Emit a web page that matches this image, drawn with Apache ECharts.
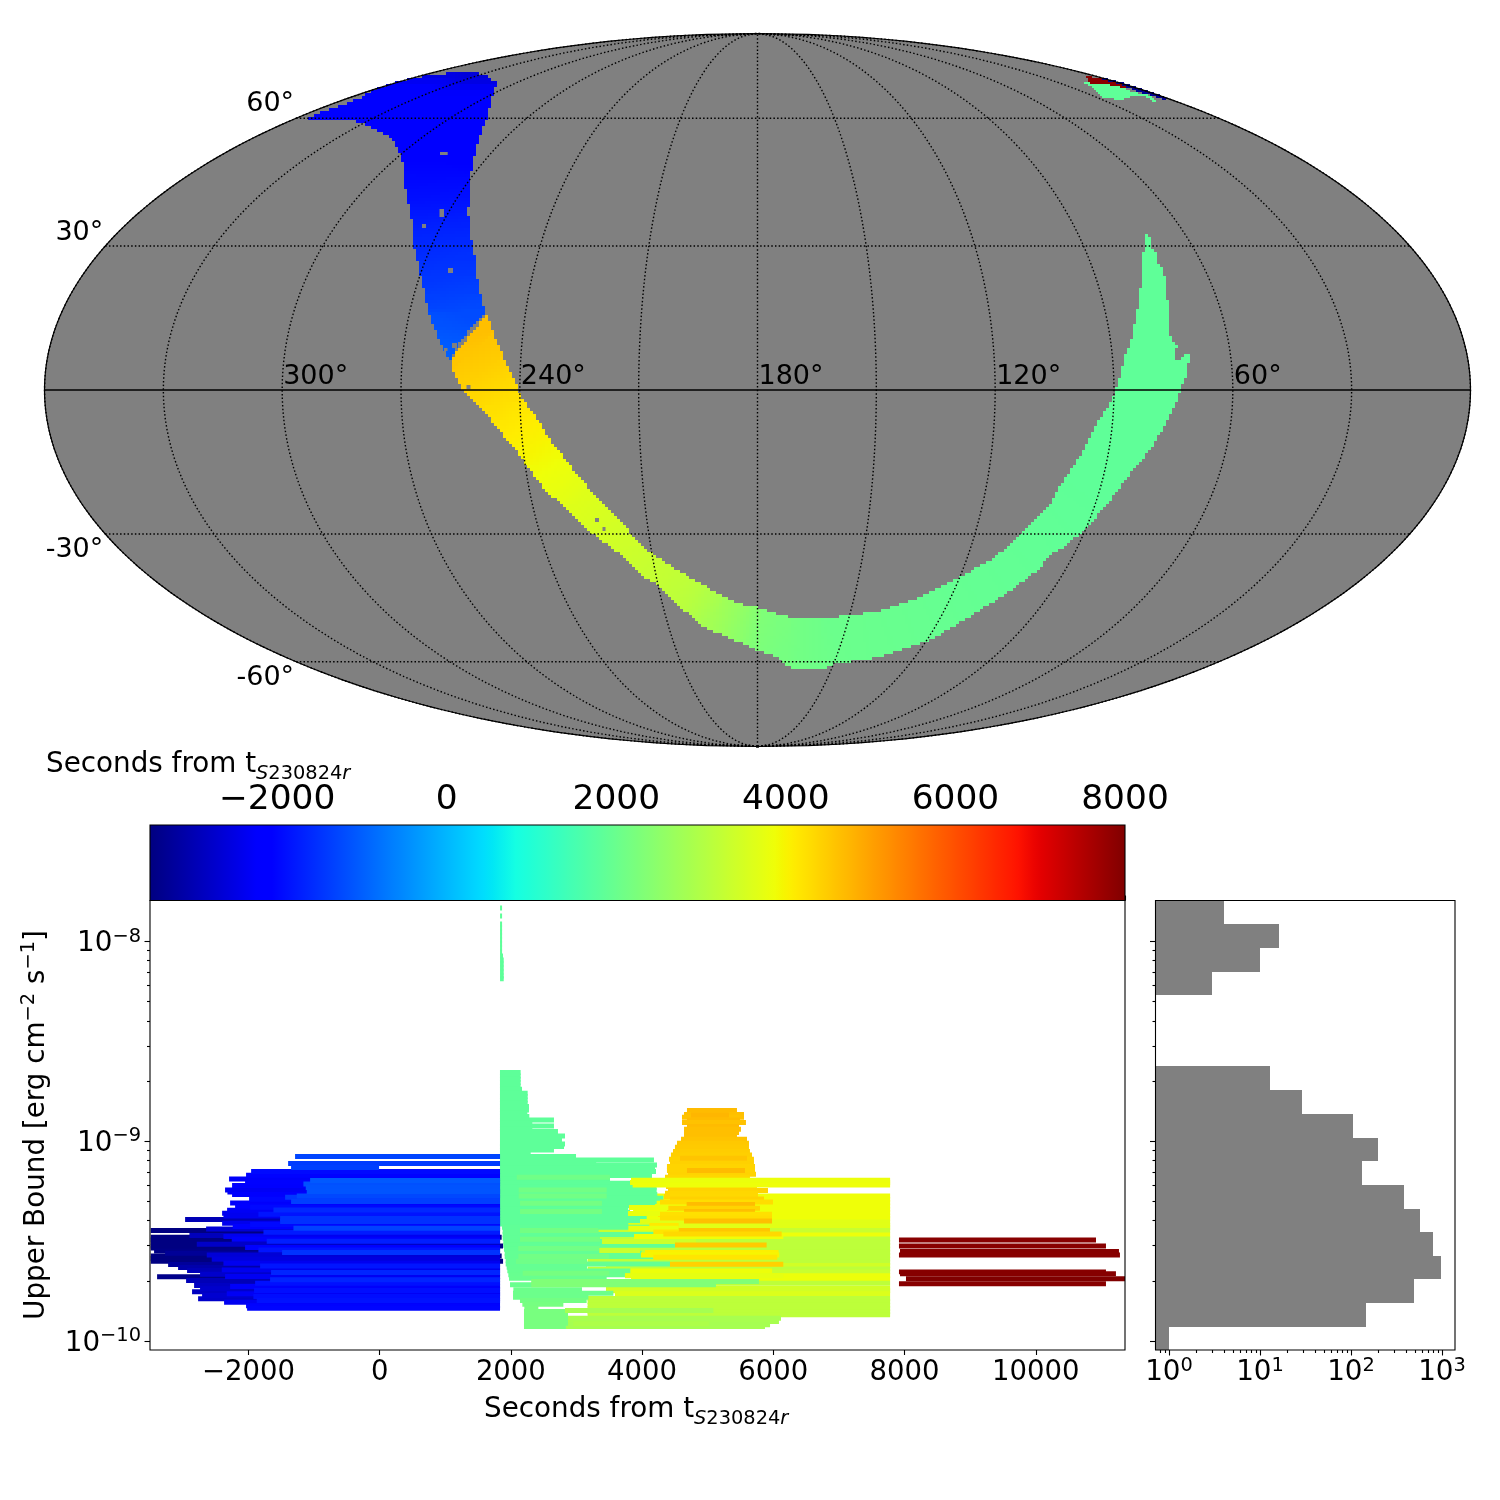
<!DOCTYPE html>
<html><head><meta charset="utf-8">
<style>html,body{margin:0;padding:0;background:#fff}#c{width:1500px;height:1500px}</style>
<script src="https://cdn.jsdelivr.net/npm/echarts@6/dist/echarts.min.js"></script>
</head><body><div id="c"></div>
<script>
// ---------- sky map data: sections in Mollweide plane units [x1,y1,x2,y2,seconds] ----------
const blueBand=[[-304,317.3,-281,317.3,-2600],[-337.5,313.3,-270.8,313.3,-2500],[-367.5,306.7,-260.8,306.7,-2350],[-384.2,300,-264.2,300,-2250],[-395.8,293.3,-265.8,293.3,-2200],[-409.2,286.7,-267.5,286.7,-2180],[-430.8,280,-269.2,280,-2170],[-452.5,271.7,-270.8,271.7,-2160],[-402.5,269,-271.8,269,-2150],[-387.5,263.3,-274.2,263.3,-2140],[-370.8,255,-277.5,255,-2130],[-362.5,246.7,-280.8,246.7,-2110],[-355.8,230,-284.2,230,-2070],[-354.2,213.3,-287.5,213.3,-2000],[-350.8,191.7,-288.2,191.7,-1900],[-347.5,180,-290.2,180,-1820],[-345.8,163.3,-288.2,163.3,-1700],[-344.8,145,-285.8,145,-1600],[-340.8,130,-282.5,130,-1520],[-337.5,113.3,-280.8,113.3,-1450],[-333.5,96.7,-277.5,96.7,-1350],[-329.8,80,-273.5,80,-1250],[-329.2,76.7,-271.8,76.7,-1220],[-324.2,63.3,-285.8,63.3,-1150],[-317.5,46.7,-299.2,46.7,-1050],[-309.8,30,-308.2,30,-970]];
const arcBand=[[-307.5,30,-270.8,76.7,4640],[-305.5,20,-264.5,57,4550],[-297.5,3,-254.5,33,4450],[-290.5,-5,-245.5,13,4350],[-277.5,-17,-234.5,-10,4250],[-264.5,-33,-225.5,-22,4150],[-242.5,-60,-207.5,-50,4000],[-230.5,-77,-194.5,-67,3900],[-215.5,-97,-179.5,-87,3780],[-194.5,-117,-160.5,-107,3620],[-174.5,-137,-137.5,-130,3500],[-150.5,-155,-117.5,-155,3400],[-132.5,-168,-107.5,-162,3350],[-117.5,-185,-101.5,-166,3300],[-100.5,-195,-84.5,-178,3250],[-84.5,-212,-67.5,-188,3170],[-74.5,-220,-57.5,-193,3100],[-64.5,-228,-50.5,-197,3000],[-50.5,-240,-34.5,-207,2800],[-34.5,-245,-22.5,-212,2650],[-17.5,-253,-9.5,-216,2480],[-0.5,-260,2.5,-218,2300],[15.5,-265,20.5,-224,2220],[29.5,-277,32.5,-227,2170],[42.5,-280,42.5,-228,2120],[65.5,-280,62.5,-228,2060],[77.5,-274,77.5,-227,2020],[122.5,-267,117.5,-222,1990],[172.5,-250,162.5,-207,1960],[217.5,-223,202.5,-187,1930],[235.5,-212,219.5,-177,1920],[257.5,-197,235.5,-168,1910],[277.5,-182,252.5,-155,1900],[295.5,-163,269.5,-138,1890],[307.5,-156,279.5,-127,1880],[322.5,-143,292.5,-115,1870],[337.5,-128,300.5,-98,1860],[352.5,-110,309.5,-85,1855],[365.5,-93,317.5,-73,1850],[377.5,-77,324.5,-62,1850],[390.5,-62,329.5,-52,1850],[404.5,-40,334.5,-42,1850],[409.2,-30,340.8,-30,1850],[417.5,-13.3,352.5,-13.3,1850],[422.5,0,357.5,0,1850],[427.5,13.3,362.5,13.3,1850],[429.2,26.7,365.2,26.7,1850],[427,28,365.5,28,1850],[416.5,30.5,366,30.5,1850],[416.5,36.7,367.5,36.7,1850],[419.2,43.3,372.5,43.3,1850],[410.8,56.7,374.2,56.7,1850],[411.8,70,377.5,70,1850],[409.8,86.7,380.8,86.7,1850],[408.5,103.3,382.5,103.3,1850],[405.2,120,383.5,120,1850],[399.8,126.7,383.5,126.7,1850],[397.8,136.7,384.8,136.7,1850],[393.5,144,387.5,144,1850],[392.5,150,388.2,150,1850],[389.2,155.7,385.8,155.7,1850]];
const wingBand=[[431.5,26,420,26,1850],[431.5,28.3,422.5,28.3,1850],[430.5,37.3,427.5,37.3,1850]];
const farMintBand=[[326.5,309,326.5,307.3,1850],[335.8,307.3,335.8,301.7,1850],[345.8,306,345.8,291.7,1850],[355.8,305,355.8,291,1850],[365.8,301.7,365.8,290.7,1850],[372.5,298.3,372.5,293.3,1850],[382.5,296.7,382.5,295,1850],[390.8,295,390.8,291.7,1850],[397.5,290,397.5,287.3,1850]];
const farRedBand=[[328.5,314.3,328.5,311.7,7900],[332.5,313.3,332.5,306.7,7900],[344.2,311.7,344.2,306,7900],[355.8,308.3,355.8,304.3,7900],[369.2,304,369.2,301.7,7900],[372.5,301.7,372.5,300.7,7900]];
const farNavyBand=[[344.2,312.3,344.2,310.7,-3300],[357.5,309.3,357.5,307.3,-3300],[369.2,306,369.2,302.7,-3300],[382.5,301.7,382.5,297.3,-3300],[395.8,297.3,395.8,294,-3300],[407.5,292.7,407.5,289.3,-3300]];
const skyHoles=[[-317.5,238,-309.8,235],[-318,181,-313.5,173],[-335.5,166,-331.5,162],[-309.5,122,-304.5,117],[-305.5,47,-300.5,42],[-313.5,42,-310,39],[-291,5,-287,1],[-162.5,-128,-158.5,-132],[-155,-137,-152,-141]];
const meridianLons=[0,30,60,90,120,150,180,210,240,270,300,330];
const parallelLats=[-60,-30,30,60];
const lonLabels=[['300°',300],['240°',240],['180°',180],['120°',120],['60°',60]];
const latLabels=[['60°',60,-14],['30°',30,-13],['-30°',-30,16],['-60°',-60,16]];

// ---------- time / flux rows: [log10(upper bound), start seconds, end seconds] ----------
const blueRows=[[-9.078,-1289],[-9.113,-1395],[-9.133,-1350,-9],[-9.153,-1959],[-9.172,-2036],[-9.190,-2295],[-9.207,-2051],[-9.223,-2249],[-9.245,-2356],[-9.255,-2320],[-9.268,-2249],[-9.292,-1990],[-9.310,-2279],[-9.325,-2203],[-9.347,-2325],[-9.362,-2401],[-9.375,-2381],[-9.393,-2965],[-9.412,-2401],[-9.428,-2239],[-9.440,-2645],[-9.448,-3488],[-9.473,-2899],[-9.482,-3488,1860],[-9.495,-3488],[-9.508,-3488],[-9.525,-3488,1881],[-9.535,-3488],[-9.550,-3438],[-9.562,-3270],[-9.575,-3488,1860],[-9.588,-3488],[-9.602,-3488,1881],[-9.618,-3224],[-9.633,-3072],[-9.648,-2935],[-9.667,-2737],[-9.680,-3392],[-9.698,-2950],[-9.723,-2828],[-9.740,-2737],[-9.755,-2859],[-9.772,-2706],[-9.790,-2767],[-9.807,-2371],[-9.825,-2036],[-9.837,-2020],
[-9.198,-1060],[-9.215,-1162],[-9.233,-1126],[-9.253,-1111],[-9.275,-1263],[-9.282,-1441],[-9.303,-1350],[-9.332,-1975],[-9.345,-1619],[-9.367,-1848],[-9.388,-1517],[-9.403,-1517],[-9.418,-1975],[-9.437,-1314],[-9.457,-1771],[-9.478,-2381],[-9.492,-2254],[-9.502,-1721],[-9.517,-2787],[-9.533,-2051],[-9.545,-1848],[-9.558,-1487],[-9.570,-2635],[-9.592,-2559],[-9.612,-2381],[-9.625,-1822],[-9.645,-2406],[-9.658,-1655],[-9.678,-2356],[-9.695,-1670],[-9.712,-1898],[-9.728,-2279],[-9.748,-1914],[-9.765,-2330],[-9.778,-1924],[-9.798,-1873]];
const yellowBaseRows=[[-9.275,3866],[-9.292,3866],[-9.308,3866],[-9.325,3866],[-9.342,3866],[-9.358,3866],[-9.375,3866],[-9.387,3866],[-9.405,3668],[-9.422,3668],[-9.433,3668],[-9.448,3308],[-9.470,3841],[-9.490,3170],[-9.507,3170],[-9.523,3170],[-9.540,3170],[-9.557,3170],[-9.573,3170],[-9.590,3170],[-9.607,3170],[-9.623,3450],[-9.640,3170],[-9.655,3308],[-9.675,3831],[-9.690,3831],[-9.712,3170],[-9.737,3450],[-9.750,3450],[-9.765,3587],[-9.788,3170],[-9.805,3170],[-9.822,3170],[-9.838,3170],[-9.855,3170],[-9.870,3170],[-9.887,2871,6117],[-9.903,2871,6086],[-9.920,2840,5950],[-9.928,2840,5873]];
const mintRows=[[-8.658,1834,2149],[-8.675,1834,2149],[-8.692,1834,2149],[-8.708,1834,2149],[-8.725,1834,2149],[-8.742,1834,2170],[-8.762,1834,2256],[-8.778,1834,2256],[-8.795,1834,2256],[-8.812,1834,2256],[-8.828,1834,2276],[-8.845,1834,2276],[-8.862,1834,2251],[-8.878,1834,2281],[-8.895,1834,2657],[-8.912,1834,2327],[-8.925,1834,2657],[-8.942,1834,2327],[-8.953,1834,2718],[-8.975,1834,2825],[-8.995,1834,2779],[-9.015,1834,2825],[-9.028,1834,2810],[-9.045,1834,2657],[-9.065,1834,2302],[-9.078,1834,2993],[-9.095,1834,4181],[-9.108,1834,3300],[-9.120,1834,4227],[-9.137,1834,4197],[-9.153,1834,4212],[-9.173,1834,4151],[-9.192,1834,3511],[-9.212,1834,4222],[-9.232,1834,4222],[-9.248,1834,4222],[-9.268,1834,4232],[-9.287,1834,4324],[-9.303,1834,4222],[-9.323,1834,4197],[-9.342,1834,3790],[-9.358,1834,3816],[-9.378,1834,4070],[-9.398,1834,3968],[-9.415,1834,3790],[-9.432,1865,4171],[-9.453,1875,3333],[-9.468,1875,4222],[-9.487,1875,3358],[-9.503,1885,3866],[-9.522,1885,4501],[-9.542,1895,3358],[-9.562,1906,3993],[-9.578,1906,4171],[-9.598,1921,3160],[-9.615,1921,4425],[-9.632,1936,3160],[-9.650,1946,3816],[-9.670,1961,3739],[-9.687,1972,3460],[-9.720,1987,3084],[-9.745,2038,3084],[-9.762,2033,3562],[-9.782,2033,3181],[-9.798,2139,3155],[-9.817,2175,2800],[-9.837,2205,2419],[-9.853,2200,2871],[-9.870,2200,2871],[-9.892,2200,2871],[-9.912,2200,2871],[-9.928,2200,2840],
[-9.182,2090,3510],[-9.245,2120,3460],[-9.275,2120,3460],[-9.312,2140,3388],[-9.353,2140,3388],[-9.448,2139,3333],[-9.492,2139,3358],[-9.538,2114,3358],[-9.578,2114,3500],[-9.603,2078,3160],[-9.662,2180,3500]];
const goldRows=[[-8.848,4684,5446],[-8.868,4639,5553],[-8.882,4608,5553],[-8.895,4684,5492],[-8.908,4608,5583],[-8.928,4684,5477],[-8.942,4639,5507],[-8.958,4639,5477],[-8.972,4639,5446],[-8.992,4593,5599],[-9.012,4532,5629],[-9.032,4501,5629],[-9.053,4471,5644],[-9.070,4440,5675],[-9.092,4410,5705],[-9.112,4425,5705],[-9.128,4379,5721],[-9.148,4379,5721],[-9.167,4395,5736],[-9.182,4349,5644],[-9.228,4364,5751],[-9.248,4395,5919],[-9.262,4349,5766],[-9.278,4334,5766],[-9.290,4425,5858],[-9.305,4273,5995],[-9.318,4679,5721],[-9.337,4379,5797],[-9.353,4639,5721],[-9.367,4242,5980],[-9.385,4273,5980],[-9.400,4639,5980],[-9.448,4547,5949],[-8.870,4745,5324],[-9.148,4684,5568],[-9.087,4578,5599]];
const yellowOverRows=[[-9.197,3831,7780],[-9.208,3816,7780],[-9.220,3856,7780],[-9.333,3800,4400],[-9.363,3785,4273],[-9.423,4110,4557],[-9.437,3790,4557],[-9.455,4171,4557],[-9.478,3877,6152],[-9.465,4324,6127],[-9.503,3389,4821],[-9.520,4501,5898],[-9.548,3348,3968],[-9.558,4044,6081],[-9.570,3983,6091],[-9.582,4171,6061],[-9.617,4425,6152],[-9.650,3831,5981],[-9.675,3739,6152],[-9.703,2310,5782],[-9.720,2310,5126],[-9.848,2825,5086],[-9.915,2950,5025]];
const redRows=[[-9.495,7915,10918],[-9.525,7915,11070],[-9.553,7931,11268],[-9.570,7915,11283],[-9.655,7915,11070],[-9.665,7931,11222],[-9.690,8022,11360],[-9.715,7915,11070]];
const stripRows=[[-7.835,1835,1866],[-7.875,1835,1866],[-7.915,1835,1866],[-7.935,1835,1866],[-7.955,1835,1866],[-7.975,1835,1866],[-7.995,1835,1866],[-8.015,1835,1866],[-8.035,1835,1866],[-8.055,1835,1866],[-8.075,1835,1880],[-8.095,1835,1891],[-8.115,1835,1891],[-8.135,1835,1891],[-8.155,1835,1891],[-8.175,1835,1891],[-8.189,1835,1891]];
const blueEnd=1835, longEnd=7780;

// ---------- histogram ----------
const histEdges=[1.591e-8,1.211e-8,9.22e-9,7.02e-9,5.34e-9,4.07e-9,3.10e-9,2.36e-9,1.795e-9,1.367e-9,1.04e-9,7.92e-10,6.03e-10,4.59e-10,3.49e-10,2.66e-10,2.03e-10,1.54e-10,1.17e-10,8.93e-11];
const histCounts=[4,16,10,3,0,0,0,13,29,104,196,131,379,569,790,967,489,145,1];

// ---------- axes ----------
const timeTicks=[-2000,0,2000,4000,6000,8000,10000];
const colorTicks=[-2000,0,2000,4000,6000,8000];
const fluxMajor=[1e-8,1e-9,1e-10];
const fluxMinor=[9e-9,8e-9,7e-9,6e-9,5e-9,4e-9,3e-9,2e-9,9e-10,8e-10,7e-10,6e-10,5e-10,4e-10,3e-10,2e-10];
const countMajor=[1,10,100,1000];
const countMinor=[.8,.9,2,3,4,5,6,7,8,9,20,30,40,50,60,70,80,90,200,300,400,500,600,700,800,900];
const cMin=-3500,cMax=8000,tMin=-3500,tMax=11360,fMin=9.0e-11,fMax=1.594e-8,nMin=0.71,nMax=1389;
const RX=713,RY=356.5;
const FONT='DejaVu Sans',FS=27.8,SS=19.4;

const jetR=[[0,0],[.35,0],[.66,1],[.89,1],[1,.5]],jetG=[[0,0],[.125,0],[.375,1],[.64,1],[.91,0],[1,0]],jetB=[[0,.5],[.11,1],[.34,1],[.65,0],[1,0]];
function seg(a,x){for(let i=1;i<a.length;i++){if(x<=a[i][0]){return a[i-1][1]+(a[i][1]-a[i-1][1])*(x-a[i-1][0])/(a[i][0]-a[i-1][0]);}}return a[a.length-1][1];}
function jetN(x){x=Math.max(0,Math.min(1,x));return 'rgb('+Math.round(seg(jetR,x)*255)+','+Math.round(seg(jetG,x)*255)+','+Math.round(seg(jetB,x)*255)+')';}
function jet(t){return jetN((t-cMin)/(cMax-cMin));}

function moll(lon,lat){
  const phi=lat*Math.PI/180;let th=phi;
  if(Math.abs(lat)<90){for(let i=0;i<40;i++){th-=(2*th+Math.sin(2*th)-Math.PI*Math.sin(phi))/(2+2*Math.cos(2*th));}}
  return [(180-lon)/180*RX*Math.cos(th),RY*Math.sin(th)];
}
function range(a,b,s){const r=[];for(let v=a;v<=b+1e-9;v+=s)r.push(v);return r;}
function inPoly(x,y,p){let c=false;for(let i=0,j=p.length-1;i<p.length;j=i++){if((p[i][1]>y)!==(p[j][1]>y)&&x<(p[j][0]-p[i][0])*(y-p[i][1])/(p[j][1]-p[i][1])+p[i][0])c=!c;}return c;}

const series=[];
function ellipsePoints(){const p=[];range(-90,90,1).forEach(l=>p.push(moll(0,l)));range(-90,90,1).reverse().forEach(l=>p.push(moll(360,l)));return p;}
series.push({type:'custom',xAxisIndex:0,yAxisIndex:0,silent:true,animation:false,data:[[0,0]],
  renderItem(params,api){return {type:'polygon',shape:{points:ellipsePoints().map(p=>api.coord(p))},style:{fill:'#808080',stroke:null}};}});
// each stretch of the band between two sections is rasterised into sky-pixel blocks, like the pixelised map
function bandSeries(sections,cell){
  return {type:'custom',xAxisIndex:0,yAxisIndex:0,silent:true,animation:false,progressive:0,data:sections.slice(0,-1).map(s=>[s[0],s[1]]),
    renderItem(params,api){
      const a=sections[params.dataIndex],b=sections[params.dataIndex+1];
      const q=[[a[0],a[1]],[a[2],a[3]],[b[2],b[3]],[b[0],b[1]]];
      const xs=q.map(v=>v[0]),ys=q.map(v=>v[1]);
      const mx0=(a[0]+a[2])/2,my0=(a[1]+a[3])/2,dx=(b[0]+b[2])/2-mx0,dy=(b[1]+b[3])/2-my0,dd=dx*dx+dy*dy||1;
      const children=[];
      for(let i=Math.floor(Math.min(...xs)/cell);i<=Math.ceil(Math.max(...xs)/cell);i++){
        for(let j=Math.floor(Math.min(...ys)/cell);j<=Math.ceil(Math.max(...ys)/cell);j++){
          const x=(i+.5)*cell,y=(j+.5)*cell;
          if(!inPoly(x,y,q))continue;
          const f=Math.max(0,Math.min(1,((x-mx0)*dx+(y-my0)*dy)/dd));
          const p0=api.coord([i*cell,(j+1)*cell]),p1=api.coord([(i+1)*cell,j*cell]);
          const X0=Math.round(p0[0]),Y0=Math.round(p0[1]);
          children.push({type:'rect',shape:{x:X0,y:Y0,width:Math.round(p1[0])-X0,height:Math.round(p1[1])-Y0},style:{fill:jet(a[4]+(b[4]-a[4])*f)}});
        }
      }
      return {type:'group',children};
    }};
}
series.push(bandSeries(blueBand,3),bandSeries(arcBand,3),bandSeries(wingBand,3),bandSeries(farMintBand,2),bandSeries(farRedBand,2),bandSeries(farNavyBand,2));
series.push({type:'custom',xAxisIndex:0,yAxisIndex:0,silent:true,animation:false,data:skyHoles,
  renderItem(params,api){const a=api.coord([api.value(0),api.value(1)]),b=api.coord([api.value(2),api.value(3)]);
    return {type:'rect',shape:{x:a[0],y:a[1],width:b[0]-a[0],height:b[1]-a[1]},style:{fill:'#808080'}};}});
// graticule
const dotted={color:'#000',width:1.4,type:[1.5,2.2]};
meridianLons.concat([360]).forEach(lon=>{series.push({type:'line',xAxisIndex:0,yAxisIndex:0,silent:true,animation:false,symbol:'none',clip:false,lineStyle:dotted,data:range(-90,90,2).map(l=>moll(lon,l))});});
parallelLats.forEach(lat=>{series.push({type:'line',xAxisIndex:0,yAxisIndex:0,silent:true,animation:false,symbol:'none',clip:false,lineStyle:dotted,data:[moll(360,lat),moll(0,lat)]});});
series.push({type:'line',xAxisIndex:0,yAxisIndex:0,silent:true,animation:false,symbol:'none',clip:false,lineStyle:{color:'#000',width:1.5},data:[moll(360,0),moll(0,0)]});
series.push({type:'custom',xAxisIndex:0,yAxisIndex:0,silent:true,animation:false,data:[[0,0]],
  renderItem(params,api){return {type:'polygon',shape:{points:ellipsePoints().map(p=>api.coord(p))},style:{fill:null,stroke:'#000',lineWidth:1.2}};}});
// map labels
const labelStyle={fontFamily:FONT,fontSize:27,color:'#000',opacity:1};
series.push({type:'scatter',xAxisIndex:0,yAxisIndex:0,silent:true,animation:false,symbolSize:0,itemStyle:{opacity:1},z:8,
  data:lonLabels.map(l=>({value:moll(l[1],0),name:l[0]})),
  label:{show:true,position:[1,-13],align:'left',verticalAlign:'middle',formatter:p=>p.name,...labelStyle}});
series.push({type:'scatter',xAxisIndex:0,yAxisIndex:0,silent:true,animation:false,symbolSize:0,itemStyle:{opacity:1},z:8,
  data:latLabels.map(l=>{const m=moll(360,l[1]);return {value:m,name:l[0],label:{position:[-2,l[2]]}};}),
  label:{show:true,align:'right',verticalAlign:'middle',formatter:p=>p.name,...labelStyle}});

// colorbar
const jetStops=range(0,1,1/128).map(x=>({offset:Math.min(1,x),color:jetN(x)}));
series.push({type:'custom',xAxisIndex:1,yAxisIndex:1,silent:true,animation:false,data:[[cMin,1,cMax,0]],
  renderItem(params,api){const a=api.coord([api.value(0),api.value(1)]),b=api.coord([api.value(2),api.value(3)]);
    return {type:'rect',shape:{x:a[0],y:a[1],width:b[0]-a[0],height:b[1]-a[1]},
      style:{fill:new echarts.graphic.LinearGradient(0,0,1,0,jetStops)}};}});

// flux rows
const halfBar=Math.pow(10,0.0125);
function rowSeries(rows,defEnd){
  return {type:'custom',xAxisIndex:2,yAxisIndex:2,silent:true,animation:false,clip:true,progressive:0,
    data:rows.map(r=>[r[1],Math.pow(10,r[0]),r.length>2?r[2]:defEnd]),
    renderItem(params,api){
      const s=api.value(0),f=api.value(1),e=api.value(2);
      const a=api.coord([s,f*halfBar]),b=api.coord([e,f/halfBar]);
      return {type:'rect',shape:{x:a[0],y:a[1],width:b[0]-a[0],height:b[1]-a[1]},style:{fill:jet(s)}};
    }};
}
series.push(rowSeries(yellowBaseRows,longEnd));
series.push(rowSeries(mintRows));
series.push(rowSeries(goldRows));
series.push(rowSeries(yellowOverRows));
series.push(rowSeries(blueRows.slice().sort((a,b)=>a[1]-b[1]),blueEnd));
series.push(rowSeries(redRows));
series.push(rowSeries(stripRows));

// histogram
series.push({type:'custom',xAxisIndex:3,yAxisIndex:3,silent:true,animation:false,clip:true,progressive:0,
  data:histCounts.map((c,i)=>[c,histEdges[i],histEdges[i+1]]).filter(d=>d[0]>0),
  renderItem(params,api){const a=api.coord([nMin,api.value(1)]),b=api.coord([api.value(0),api.value(2)]);
    const y0=Math.round(a[1]),y1=Math.round(b[1]),x1=Math.round(b[0]);
    return {type:'rect',shape:{x:a[0],y:y0,width:x1-a[0],height:y1-y0},style:{fill:'#808080'}};}});

// ticks drawn through the log scales
function tick(xi,yi,vals,len,horizontal,fixed){
  return {type:'custom',xAxisIndex:xi,yAxisIndex:yi,silent:true,animation:false,clip:false,z:5,
    data:vals.map(v=>horizontal?[fixed,v]:[v,fixed]),
    renderItem(params,api){const p=api.coord([api.value(0),api.value(1)]);
      const c=horizontal?Math.round(p[1])+.5:Math.round(p[0])+.5;
      return {type:'line',shape:horizontal?{x1:p[0],y1:c,x2:p[0]-len,y2:c}:{x1:c,y1:p[1],x2:c,y2:p[1]+len},style:{stroke:'#000',lineWidth:1.1}};}};
}
series.push(tick(2,2,fluxMajor,5.5,true,tMin),tick(2,2,fluxMinor,3,true,tMin),tick(3,3,fluxMajor,5.5,true,nMin),tick(3,3,fluxMinor,3,true,nMin),tick(3,3,countMajor,5.5,false,fMin),tick(3,3,countMinor,3,false,fMin));
// frames
function frame(xi,yi,x0,y0,x1,y1){
  return {type:'custom',xAxisIndex:xi,yAxisIndex:yi,silent:true,animation:false,clip:false,z:6,data:[[x0,y0,x1,y1]],
    renderItem(params,api){const a=api.coord([api.value(0),api.value(1)]),b=api.coord([api.value(2),api.value(3)]);
      return {type:'rect',shape:{x:a[0],y:a[1],width:b[0]-a[0],height:b[1]-a[1]},style:{fill:null,stroke:'#000',lineWidth:1.1}};}};
}
series.push(frame(1,1,cMin,1,cMax,0),frame(2,2,tMin,fMax,tMax,fMin),frame(3,3,nMin,fMax,nMax,fMin));

function powLabel(v){const l=Math.log10(v),r=Math.round(l);if(Math.abs(l-r)>1e-3)return '';return '{b|10}{s|'+String(r).replace('-','−')+'}';}
const powRich={b:{fontFamily:FONT,fontSize:FS,color:'#000',lineHeight:31,verticalAlign:'bottom'},s:{fontFamily:FONT,fontSize:SS,color:'#000',lineHeight:22,verticalAlign:'top'}};
const titleRich={a:{fontFamily:FONT,fontSize:FS,color:'#000',lineHeight:32,verticalAlign:'top'},i:{fontFamily:FONT,fontSize:SS,fontStyle:'italic',color:'#000',lineHeight:20,verticalAlign:'bottom'},d:{fontFamily:FONT,fontSize:SS,color:'#000',lineHeight:20,verticalAlign:'bottom'}};
const titleText='{a|Seconds from t}{i|S}{d|230824}{i|r}';

const option={
  backgroundColor:'#fff',animation:false,
  grid:[
    {left:44.5,top:33.5,width:1426,height:713},
    {left:150,top:825,width:975,height:75.5},
    {left:150,top:900.5,width:975,height:449.5},
    {left:1155.5,top:900.5,width:299.5,height:449.5}
  ],
  xAxis:[
    {gridIndex:0,type:'value',min:-RX,max:RX,show:false},
    {gridIndex:1,type:'value',position:'top',min:cMin,max:cMax,axisLine:{show:false},splitLine:{show:false},
      axisTick:{show:true,length:5,customValues:colorTicks,lineStyle:{color:'#000',width:1.1}},
      axisLabel:{customValues:colorTicks,margin:8,fontFamily:FONT,fontSize:34.4,color:'#000',formatter:v=>String(v).replace('-','−')}},
    {gridIndex:2,type:'value',min:tMin,max:tMax,axisLine:{show:false},splitLine:{show:false},
      axisTick:{show:true,length:5,customValues:timeTicks,lineStyle:{color:'#000',width:1.1}},
      axisLabel:{customValues:timeTicks,margin:9,fontFamily:FONT,fontSize:27.5,color:'#000',formatter:v=>String(v).replace('-','−')}},
    {gridIndex:3,type:'log',logBase:10,min:nMin,max:nMax,axisLine:{show:false},splitLine:{show:false},axisTick:{show:false},
      axisLabel:{margin:6,formatter:powLabel,rich:powRich,showMinLabel:false,showMaxLabel:false,hideOverlap:false}}
  ],
  yAxis:[
    {gridIndex:0,type:'value',min:-RY,max:RY,show:false},
    {gridIndex:1,type:'value',min:0,max:1,show:false},
    {gridIndex:2,type:'log',logBase:10,min:fMin,max:fMax,axisLine:{show:false},splitLine:{show:false},axisTick:{show:false},
      axisLabel:{margin:9,padding:[3,0,0,0],formatter:powLabel,rich:powRich,showMinLabel:false,showMaxLabel:false}},
    {gridIndex:3,type:'log',logBase:10,min:fMin,max:fMax,axisLine:{show:false},splitLine:{show:false},axisTick:{show:false},axisLabel:{show:false}}
  ],
  graphic:[
    {type:'text',x:46,y:751,silent:true,style:{text:titleText,rich:titleRich}},
    {type:'text',x:484,y:1396,silent:true,style:{text:titleText,rich:titleRich}},
    {type:'text',x:35.4,y:1125,rotation:Math.PI/2,silent:true,style:{align:'center',verticalAlign:'middle',
      text:'{a|Upper Bound [erg cm}{u|−2}{a| s}{u|−1}{a|]}',
      rich:{a:{fontFamily:FONT,fontSize:FS,color:'#000',lineHeight:31,verticalAlign:'bottom'},u:{fontFamily:FONT,fontSize:SS,color:'#000',lineHeight:22,verticalAlign:'top'}}}}
  ],
  series
};
const chart=echarts.init(document.getElementById('c'),null,{renderer:'canvas'});
chart.setOption(option);
</script></body></html>
